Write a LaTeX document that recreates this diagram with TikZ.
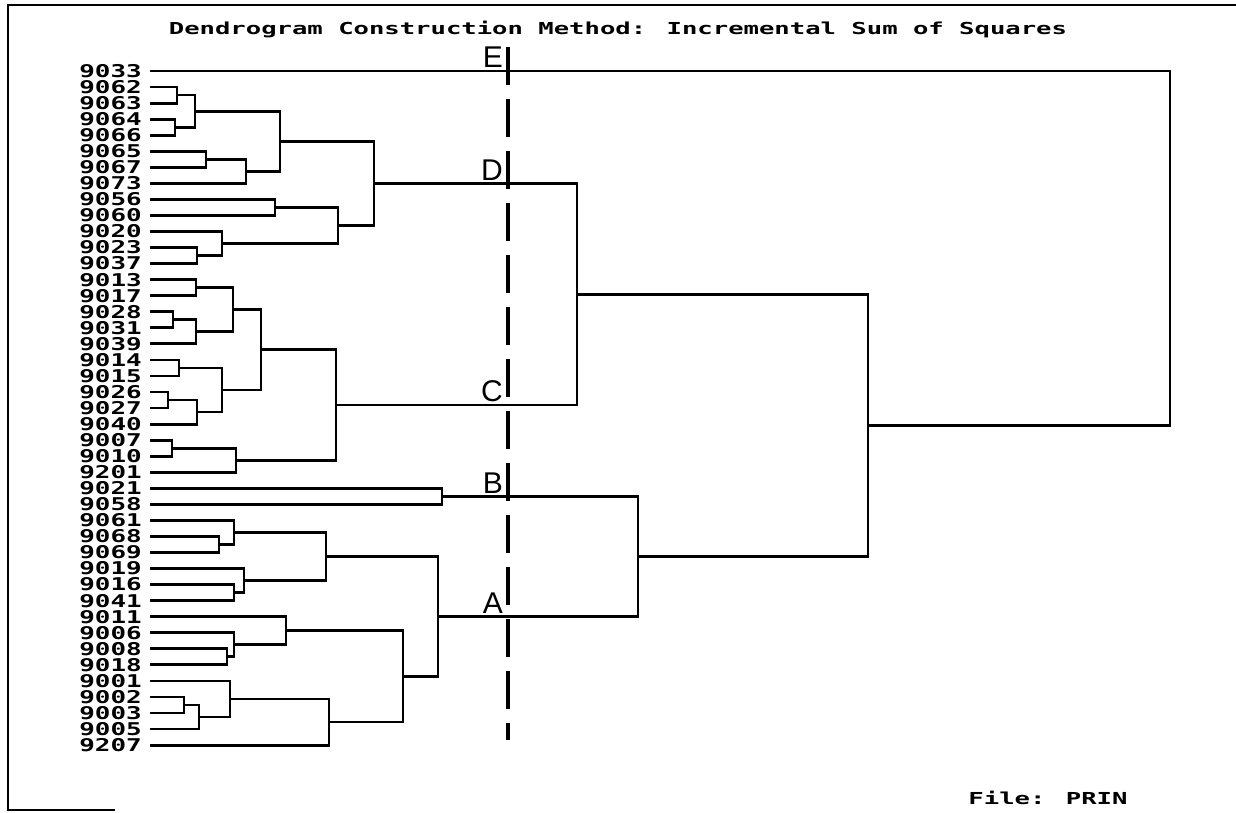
\documentclass[tikz,border=0pt]{standalone}
\usepackage{fontspec}
\usepackage{graphicx}
\setmainfont{Liberation Sans}
\newfontfamily\pixfont{DejaVu Sans Mono}
\usetikzlibrary{calc}
\newcommand\dendjoin[4]{%
  \path let \p1=(#3), \p2=(#4) in ({#2pt},{(\y1+\y2)/2}) coordinate (#1);
  \draw[branch] (#3) -| (#1) |- (#4);
}
\begin{document}
\begin{tikzpicture}[x=1pt, y=-1pt,
    branch/.style={line width=2.8pt},
    leaf/.style={anchor=east, inner xsep=8pt, inner ysep=0pt, font=\pixfont\bfseries\fontsize{16}{16}\selectfont},
    pixtext/.style={inner sep=0pt, font=\pixfont\bfseries\fontsize{16.5}{16.5}\selectfont},
    cutline/.style={line width=3.8pt, dash pattern=on 38pt off 14pt},
    cutletter/.style={anchor=south east, inner xsep=5pt, inner ysep=3pt, font=\fontsize{30}{30}\selectfont},
    frame/.style={line width=2.6pt}]
\useasboundingbox (0,0) rectangle (1236,812);
\draw[frame] (1236,5) -- (8,5) -- (8,810) -- (115,810);
\node[pixtext] (title) at (618,30) {\scalebox{1.55}[1]{Dendrogram Construction Method: Incremental Sum of Squares}};
\node[pixtext] (file) at (1048,798) {\scalebox{1.55}[1]{File: PRIN}};
\foreach \id [count=\i from 0] in {9033,9062,9063,9064,9066,9065,9067,9073,9056,9060,9020,9023,9037,
    9013,9017,9028,9031,9039,9014,9015,9026,9027,9040,9007,9010,9201,
    9021,9058,9061,9068,9069,9019,9016,9041,9011,9006,9008,9018,9001,9002,9003,9005,9207}
  \node[leaf] (l\id) at (150,{71+16.05*\i}) {\scalebox{1.62}[1.1]{\id}};
\dendjoin{a1}{177}{l9062.east}{l9063.east}
\dendjoin{a2}{175}{l9064.east}{l9066.east}
\dendjoin{a3}{195}{a1}{a2}
\dendjoin{a4}{206}{l9065.east}{l9067.east}
\dendjoin{a5}{246}{a4}{l9073.east}
\dendjoin{a6}{280}{a3}{a5}
\dendjoin{a7}{275}{l9056.east}{l9060.east}
\dendjoin{a8}{197}{l9023.east}{l9037.east}
\dendjoin{a9}{222}{l9020.east}{a8}
\dendjoin{a10}{338}{a7}{a9}
\dendjoin{top}{374}{a6}{a10}
\dendjoin{b1}{196}{l9013.east}{l9017.east}
\dendjoin{b2}{173}{l9028.east}{l9031.east}
\dendjoin{b3}{196}{b2}{l9039.east}
\dendjoin{b4}{233}{b1}{b3}
\dendjoin{b5}{179}{l9014.east}{l9015.east}
\dendjoin{b6}{168}{l9026.east}{l9027.east}
\dendjoin{b7}{197}{b6}{l9040.east}
\dendjoin{b8}{222}{b5}{b7}
\dendjoin{b9}{261}{b4}{b8}
\dendjoin{b10}{172}{l9007.east}{l9010.east}
\dendjoin{b11}{236}{b10}{l9201.east}
\dendjoin{mid}{336}{b9}{b11}
\dendjoin{pair}{442}{l9021.east}{l9058.east}
\dendjoin{c1}{219}{l9068.east}{l9069.east}
\dendjoin{c2}{234}{l9061.east}{c1}
\dendjoin{c3}{234}{l9016.east}{l9041.east}
\dendjoin{c4}{244}{l9019.east}{c3}
\dendjoin{c5}{326}{c2}{c4}
\dendjoin{c6}{227}{l9008.east}{l9018.east}
\dendjoin{c7}{234}{l9006.east}{c6}
\dendjoin{c8}{286}{l9011.east}{c7}
\dendjoin{c9}{184}{l9002.east}{l9003.east}
\dendjoin{c10}{199}{c9}{l9005.east}
\dendjoin{c11}{230}{l9001.east}{c10}
\dendjoin{c12}{329}{c11}{l9207.east}
\dendjoin{c13}{403}{c8}{c12}
\dendjoin{low}{438}{c5}{c13}
\dendjoin{dc}{577}{top}{mid}
\dendjoin{ab}{638}{pair}{low}
\dendjoin{lower}{868}{dc}{ab}
\dendjoin{root}{1170}{l9033.east}{lower}
\coordinate (cutTop) at (508,47);
\coordinate (cutBot) at (508,740);
\draw[cutline] (cutTop) -- (cutBot);
\node[cutletter] (lE) at (cutTop |- l9033.east) {E};
\node[cutletter] (lD) at (cutTop |- top) {D};
\node[cutletter] (lC) at (cutTop |- mid) {C};
\node[cutletter] (lB) at (cutTop |- pair) {B};
\node[cutletter] (lA) at (cutTop |- low) {A};
\end{tikzpicture}
\end{document}
